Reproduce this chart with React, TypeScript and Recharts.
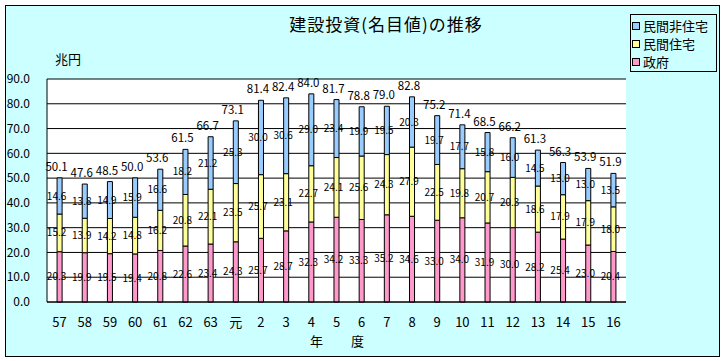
import React from "react";
import { BarChart, Bar, XAxis, YAxis, CartesianGrid, LabelList } from "recharts";

const years = ["57", "58", "59", "60", "61", "62", "63", "元", "2", "3", "4", "5", "6", "7", "8", "9", "10", "11", "12", "13", "14", "15", "16"];
const government = [20.3, 19.9, 19.5, 19.4, 20.8, 22.6, 23.4, 24.3, 25.7, 28.7, 32.3, 34.2, 33.3, 35.2, 34.6, 33.0, 34.0, 31.9, 30.0, 28.2, 25.4, 23.0, 20.4];
const housing = [15.2, 13.9, 14.2, 14.8, 16.2, 20.8, 22.1, 23.5, 25.7, 23.1, 22.7, 24.1, 25.6, 24.3, 27.9, 22.5, 19.8, 20.7, 20.3, 18.6, 17.9, 17.9, 18.0];
const nonHousing = [14.6, 13.8, 14.9, 15.9, 16.6, 18.2, 21.2, 25.3, 30.0, 30.6, 29.0, 23.4, 19.9, 19.5, 20.3, 19.7, 17.7, 15.8, 16.0, 14.5, 13.0, 13.0, 13.5];
const totals = [50.1, 47.6, 48.5, 50.0, 53.6, 61.5, 66.7, 73.1, 81.4, 82.4, 84.0, 81.7, 78.8, 79.0, 82.8, 75.2, 71.4, 68.5, 66.2, 61.3, 56.3, 53.9, 51.9];
const yTicks = [0, 10, 20, 30, 40, 50, 60, 70, 80, 90];
const boundaryTicks = Array.from({ length: years.length + 1 }, (_, i) => i);

const data = years.map((y, i) => ({
  year: y,
  gov: government[i],
  house: housing[i],
  nonHouse: nonHousing[i],
  total: totals[i],
}));

const FONT = '"Noto Sans CJK JP", "DejaVu Sans", sans-serif';

const legendItems = [
  { name: "民間非住宅", color: "#99CCFF" },
  { name: "民間住宅", color: "#FFFF99" },
  { name: "政府", color: "#FF99CC" },
];

const fmt = (v: number) => v.toFixed(1);

const LegendBox = () => (
  <div
    style={{
      position: "absolute",
      left: 630,
      top: 14,
      width: 87,
      height: 58,
      border: "1px solid #000",
      background: "#CCFFFF",
      fontFamily: FONT,
      fontSize: 13,
      lineHeight: "18px",
      paddingTop: 2,
      boxSizing: "border-box",
    }}
  >
    {legendItems.map((it) => (
      <div key={it.name} style={{ display: "flex", alignItems: "center", paddingLeft: 1, height: 18 }}>
        <span
          style={{
            display: "inline-block",
            width: 8,
            height: 8,
            background: it.color,
            border: "1px solid #000",
            boxSizing: "border-box",
            marginRight: 3,
          }}
        />
        <span>{it.name}</span>
      </div>
    ))}
  </div>
);

export default function App() {
  return (
    <div
      style={{
        position: "absolute",
        left: 0,
        top: 0,
        width: 723,
        height: 361,
        background: "#fff",
      }}
    >
      <div
        style={{
          position: "absolute",
          left: 5,
          top: 5,
          width: 715,
          height: 352,
          background: "#CCFFFF",
          border: "1px solid #000",
          boxSizing: "border-box",
        }}
      />
      <div
        style={{
          position: "absolute",
          left: 0,
          top: 11,
          width: 772,
          textAlign: "center",
          fontFamily: FONT,
          fontSize: 17,
          letterSpacing: 1,
        }}
      >
        建設投資(名目値)の推移
      </div>
      <div style={{ position: "absolute", left: 55, top: 49, fontFamily: FONT, fontSize: 13 }}>兆円</div>
      <div style={{ position: "absolute", left: 310, top: 331, fontFamily: FONT, fontSize: 13 }}>年</div>
      <div style={{ position: "absolute", left: 351, top: 331, fontFamily: FONT, fontSize: 13 }}>度</div>
      <LegendBox />
      <div style={{ position: "absolute", left: 0, top: 0 }}>
        <BarChart
          width={723}
          height={361}
          data={data}
          margin={{ top: 79, right: 97, left: 7, bottom: 29 }}
          barCategoryGap="60%"
        >
          <CartesianGrid fill="#FFFFFF" stroke="#000" strokeOpacity={1} vertical={false} />
          <XAxis
            xAxisId="b"
            type="number"
            domain={[0, years.length]}
            ticks={boundaryTicks}
            tick={false}
            tickSize={4}
            mirror
            axisLine={false}
            tickLine={{ stroke: "#000" }}
            height={0}
          />
          <XAxis
            dataKey="year"
            tickLine={false}
            axisLine={{ stroke: "#000" }}
            tick={{ fill: "#000", fontSize: 13, fontFamily: FONT }}
            tickMargin={10}
            interval={0}
            height={30}
          />
          <YAxis
            domain={[0, 90]}
            ticks={yTicks}
            tickFormatter={fmt}
            tickLine={false}
            axisLine={{ stroke: "#000" }}
            tick={{ fill: "#000", fontSize: 12, fontFamily: FONT }}
            tickMargin={11}
            width={40}
            interval={0}
          />
          <YAxis
            yAxisId="r"
            orientation="right"
            domain={[0, 90]}
            tick={false}
            tickLine={false}
            axisLine={{ stroke: "#000" }}
            width={0}
          />
          <Bar dataKey="gov" stackId="a" fill="#FF99CC" stroke="#000" strokeWidth={1} isAnimationActive={false}>
            <LabelList dataKey="gov" position="center" fill="#000" fontSize={10} fontFamily={FONT} dx={-3} formatter={fmt} />
          </Bar>
          <Bar dataKey="house" stackId="a" fill="#FFFF99" stroke="#000" strokeWidth={1} isAnimationActive={false}>
            <LabelList dataKey="house" position="center" fill="#000" fontSize={10} fontFamily={FONT} dx={-3} formatter={fmt} />
          </Bar>
          <Bar dataKey="nonHouse" stackId="a" fill="#99CCFF" stroke="#000" strokeWidth={1} isAnimationActive={false}>
            <LabelList dataKey="nonHouse" position="center" fill="#000" fontSize={10} fontFamily={FONT} dx={-3} formatter={fmt} />
            <LabelList dataKey="total" position="top" offset={7} fill="#000" fontSize={11.5} fontFamily={FONT} dx={-3} formatter={fmt} />
          </Bar>
        </BarChart>
      </div>
    </div>
  );
}
